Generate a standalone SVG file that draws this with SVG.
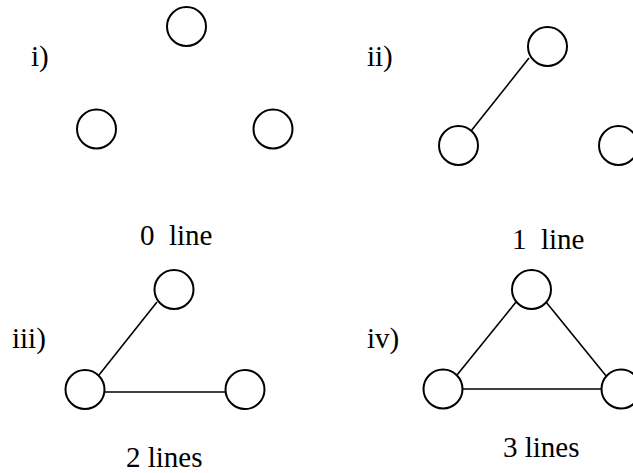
<svg xmlns="http://www.w3.org/2000/svg" width="633" height="473" viewBox="0 0 633 473">
<style>
.n{fill:#fff;stroke:#000;stroke-width:2}
.e{stroke:#000;stroke-width:1.6;fill:none}
text{font-family:"Liberation Serif","Times New Roman",serif;font-size:29px;fill:#000;white-space:pre}
</style>
<rect width="633" height="473" fill="#fff"/>
<g id="connectors">
<line class="e" x1="471" y1="131" x2="529" y2="58"/>
<line class="e" x1="99" y1="375" x2="157" y2="302"/>
<line class="e" x1="104" y1="392" x2="226" y2="392"/>
<line class="e" x1="457" y1="375" x2="516" y2="302"/>
<line class="e" x1="546" y1="302" x2="607" y2="377"/>
<line class="e" x1="462" y1="389" x2="602" y2="389"/>
</g>
<g id="panel-i">
<text x="31" y="66">i)</text>
<g id="i-top"><circle class="n" cx="186.5" cy="26.5" r="19.5"/></g>
<g id="i-left"><circle class="n" cx="96.5" cy="129" r="19.5"/></g>
<g id="i-right"><circle class="n" cx="273" cy="129" r="19.5"/></g>
<text x="140" y="245" xml:space="preserve">0  line</text>
</g>
<g id="panel-ii">
<text x="367" y="66">ii)</text>
<g id="ii-top"><circle class="n" cx="547.5" cy="46.5" r="19.5"/></g>
<g id="ii-left"><circle class="n" cx="458.5" cy="145.5" r="19.5"/></g>
<g id="ii-right"><circle class="n" cx="618.5" cy="145.5" r="19.5"/></g>
<text x="512" y="249" xml:space="preserve">1  line</text>
</g>
<g id="panel-iii">
<text x="12" y="348">iii)</text>
<g id="iii-top"><circle class="n" cx="174" cy="289.5" r="19.5"/></g>
<g id="iii-left"><circle class="n" cx="85" cy="389.5" r="19.5"/></g>
<g id="iii-right"><circle class="n" cx="245" cy="389.5" r="19.5"/></g>
<text x="126" y="467">2 lines</text>
</g>
<g id="panel-iv">
<text x="367" y="348">iv)</text>
<g id="iv-top"><circle class="n" cx="531.5" cy="289.5" r="19.5"/></g>
<g id="iv-left"><circle class="n" cx="443" cy="389" r="19.5"/></g>
<g id="iv-right"><circle class="n" cx="621" cy="389" r="19.5"/></g>
<text x="503" y="457">3 lines</text>
</g>
</svg>
